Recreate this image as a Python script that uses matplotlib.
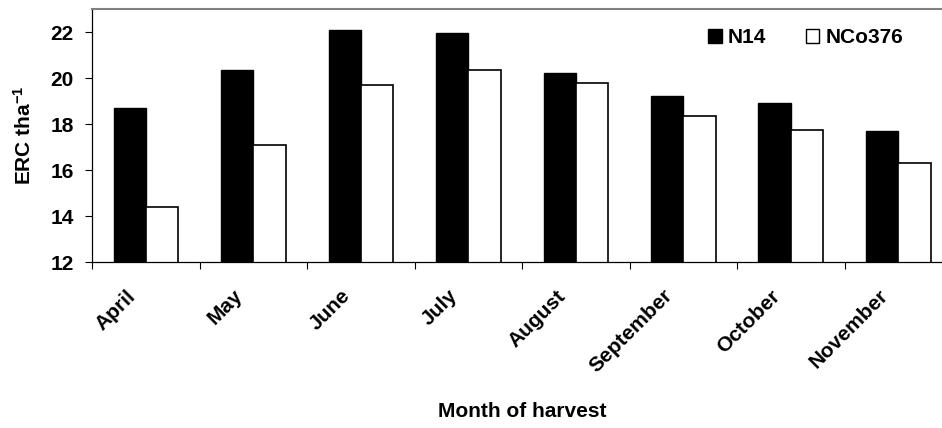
import numpy as np
import matplotlib
matplotlib.use("Agg")
import matplotlib.pyplot as plt
from matplotlib.patches import Rectangle
from matplotlib.transforms import ScaledTranslation

plt.rcParams['font.family'] = ['Liberation Sans', 'DejaVu Sans']
plt.rcParams['mathtext.fontset'] = 'custom'
plt.rcParams['mathtext.rm'] = 'Liberation Sans:bold'
plt.rcParams['mathtext.bf'] = 'Liberation Sans:bold'
plt.rcParams['mathtext.default'] = 'bf'

months = ["April", "May", "June", "July", "August", "September", "October", "November"]
n14 = [18.7, 20.35, 22.1, 21.95, 20.2, 19.2, 18.9, 17.7]
nco376 = [14.4, 17.1, 19.7, 20.35, 19.8, 18.35, 17.75, 16.3]
series_names = ["N14", "NCo376"]
yticks = [12, 14, 16, 18, 20, 22]

FS = 15

fig = plt.figure(figsize=(9.42, 4.28), dpi=100)
ax = fig.add_axes([92/942, 1 - 262/428, (952 - 92)/942, (262 - 9)/428])

x = np.arange(len(months))
w = 0.3
ax.bar(x - w/2, n14, width=w, color='black', edgecolor='black', linewidth=1.0, label=series_names[0])
ax.bar(x + w/2, nco376, width=w, color='white', edgecolor='black', linewidth=1.2, label=series_names[1])

ax.set_xlim(-0.5, len(months) - 0.5)
ax.set_ylim(12, 23)
ax.set_yticks(yticks)
ax.set_yticklabels([str(v) for v in yticks], fontsize=FS, fontweight='bold')

ax.set_xticks(x)
ax.set_xticks(np.arange(len(months) + 1) - 0.5, minor=True)
ax.tick_params(axis='x', which='major', length=0, pad=16)
ax.tick_params(axis='x', which='minor', length=5, width=0.8, direction='out')
ax.tick_params(axis='y', length=5, width=0.8, direction='out', pad=8)
ax.set_xticklabels(months, fontsize=FS, fontweight='bold', rotation=45,
                   ha='right', va='top', rotation_mode='anchor')
for lab in ax.get_xticklabels():
    lab.set_transform(lab.get_transform() + ScaledTranslation(-20/100, -2/100, fig.dpi_scale_trans))

for s in ['left', 'bottom']:
    ax.spines[s].set_color('black')
    ax.spines[s].set_linewidth(0.9)
ax.spines['top'].set_color('#808080')
ax.spines['top'].set_linewidth(1.5)
ax.spines['right'].set_visible(False)

ax.set_ylabel(r'ERC tha$^{-1}$', fontsize=FS, fontweight='bold')
ax.yaxis.set_label_coords(-0.066, 0.5)
ax.set_xlabel('Month of harvest', fontsize=FS, fontweight='bold')
ax.xaxis.set_label_coords(0.5, -0.553)

handles = [Rectangle((0, 0), 1, 1, facecolor='black', edgecolor='black'),
           Rectangle((0, 0), 1, 1, facecolor='white', edgecolor='black', linewidth=1.0)]
leg = ax.legend(handles, series_names, ncol=2, frameon=False, loc='upper left',
                bbox_to_anchor=(708/942, 1 - 28/428), bbox_transform=fig.transFigure,
                prop={'weight': 'bold', 'size': FS}, handlelength=0.65, handleheight=0.65,
                handletextpad=0.3, columnspacing=1.9, borderpad=0, borderaxespad=0)

fig.savefig('out.png', dpi=100)
